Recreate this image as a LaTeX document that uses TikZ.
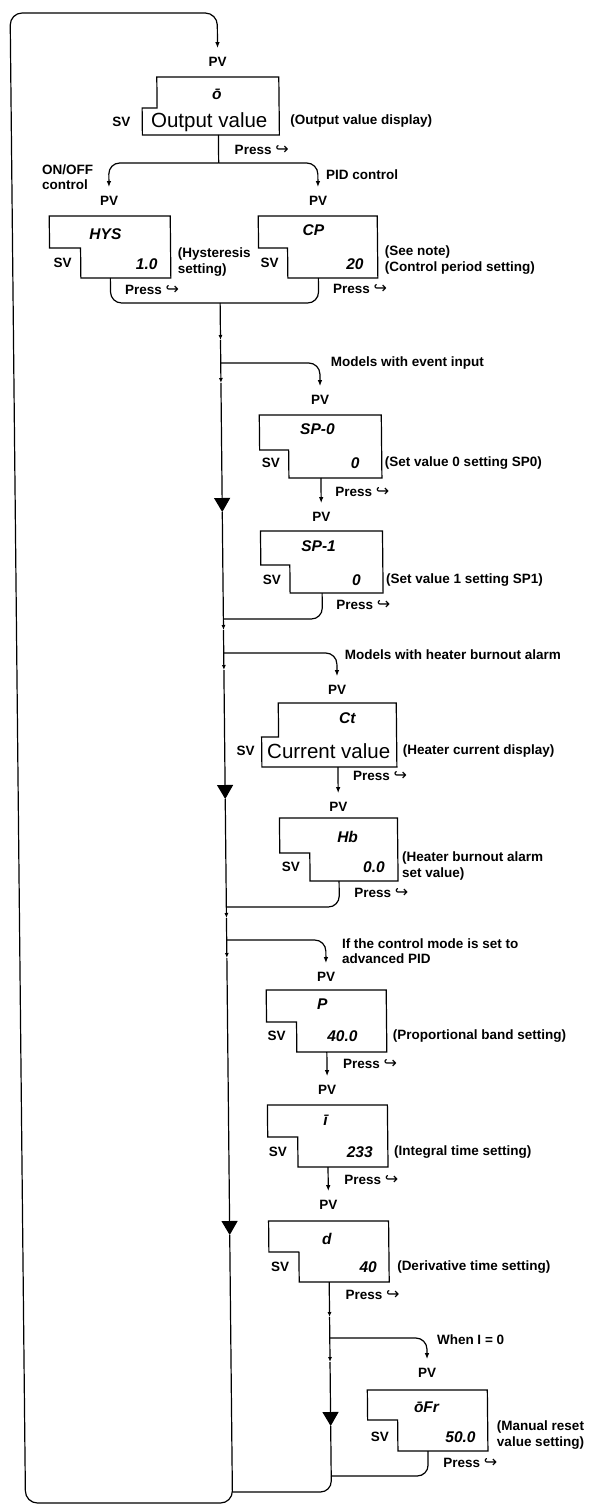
\documentclass[tikz,border=0pt]{standalone}
\usepackage{fontspec}
\setmainfont{Liberation Sans}
\newfontfamily\lblfont[WordSpace=2]{Liberation Sans}
\newfontfamily\segfont{Liberation Sans}
\newfontfamily\symfont{DejaVu Sans}
\usetikzlibrary{arrows.meta}

\newcommand{\modekey}{{\symfont\mdseries\fontsize{16}{16}\selectfont ↪}}
\newcommand{\panel}[7]{%
  \draw[panel] (#2,#5) -- (#4,#5) -- (#4,#7) -- (#3,#7) -- (#3,#6) -- (#2,#6) -- cycle;
  \coordinate (#1) at ({(#2+#4)/2},#7);}

\begin{document}
\begin{tikzpicture}[x=1pt, y=-1pt,
          every node/.style={font=\lblfont\bfseries\fontsize{13.5}{15.5}\selectfont, inner sep=0pt},
          lbl/.style={anchor=west, align=left},
          seg/.style={font=\segfont\bfseries\itshape\fontsize{15.5}{16}\selectfont},
          big/.style={font=\segfont\fontsize{20.5}{22}\selectfont},
          panel/.style={line width=1.2pt},
          line/.style={line width=1.2pt},
          arr/.style={line, -{Latex[length=6pt,width=4.5pt]}, shorten >=9pt},
          tick/.style={line, -{Latex[length=5pt,width=4pt]}},
          bigtip/.style={line, -{Triangle[length=14pt,width=16pt]}},
          corner/.style={rounded corners=11pt}
      ]
  \useasboundingbox (0,0) rectangle (596,1506);
  \begin{scope}[xslant=-0.0103]
    \node (pvtop) at (217,62) {PV};
    \panel{out}{156}{141}{278}{77}{108}{135}
    \node[seg] (outt) at (216,94) {ō};
    \node[big] (outv) at (208,122) {Output value};
    \node (outsv) at (120,122) {SV};
    \node[lbl] (outn) at (289,121) {(Output value display)};
    \node[lbl] (outp) at (233,150) {Press \modekey};
    \coordinate (split) at (217,163);

    \node[lbl] (onoff) at (40,177) {ON/OFF\\control};
    \node[lbl] (pid) at (324,175) {PID control};
    \node (pvhys) at (107,201) {PV};
    \node (pvcp) at (316,201) {PV};

    \panel{hys}{47}{78}{168}{216}{248}{278}
    \node[seg] (hyst) at (103,234) {HYS};
    \node[seg, anchor=east] (hysv) at (155,264) {1.0};
    \node (hyssv) at (60,263) {SV};
    \node[lbl] (hysn) at (175,262) {(Hysteresis\\setting)};
    \node[lbl] (hysp) at (122,290) {Press \modekey};

    \panel{cp}{256}{285}{375}{216}{248}{278}
    \node[seg] (cpt) at (311,230) {CP};
    \node[seg, anchor=east] (cpv) at (361,264) {20};
    \node (cpsv) at (267,263) {SV};
    \node[lbl] (cpn) at (382,260) {(See note)\\(Control period setting)};
    \node[lbl] (cpp) at (330,289) {Press \modekey};

    \node[lbl] (evt) at (327,363) {Models with event input};
    \node (pvsp0) at (316,400) {PV};
    \panel{sp0}{255}{284}{377}{415}{450}{478}
    \node[seg] (sp0t) at (313,429) {SP-0};
    \node[seg, anchor=east] (sp0v) at (355,463) {0};
    \node (sp0sv) at (266,463) {SV};
    \node[lbl] (sp0n) at (380,463) {(Set value 0 setting SP0)};
    \node[lbl] (sp0p) at (330,492) {Press \modekey};
    \node (pvsp1) at (316,517) {PV};
    \panel{sp1}{255}{284}{377}{531}{565}{593}
    \node[seg] (sp1t) at (313,546) {SP-1};
    \node[seg, anchor=east] (sp1v) at (355,580) {0};
    \node (sp1sv) at (266,580) {SV};
    \node[lbl] (sp1n) at (380,580) {(Set value 1 setting SP1)};
    \node[lbl] (sp1p) at (330,605) {Press \modekey};

    \node[lbl] (hbm) at (338,655) {Models with heater burnout alarm};
    \node (pvct) at (330,690) {PV};
    \panel{ct}{271}{254}{389}{703}{737}{767}
    \node[seg] (ctt) at (340,718) {Ct};
    \node[big] (ctv) at (321,751) {Current value};
    \node (ctsv) at (238,751) {SV};
    \node[lbl] (ctn) at (395,751) {(Heater current display)};
    \node[lbl] (ctp) at (345,776) {Press \modekey};
    \node (pvhb) at (330,807) {PV};
    \panel{hb}{271}{301}{389}{818}{853}{881}
    \node[seg] (hbt) at (339,837) {Hb};
    \node[seg, anchor=east] (hbv) at (376,867) {0.0};
    \node (hbsv) at (282,867) {SV};
    \node[lbl] (hbn) at (393,866) {(Heater burnout alarm\\set value)};
    \node[lbl] (hbp) at (345,893) {Press \modekey};

    \node[lbl] (adv) at (332,951) {If the control mode is set to\\advanced PID};
    \node (pvp) at (316,977) {PV};
    \panel{pb}{256}{286}{376}{990}{1022}{1052}
    \node[seg] (pbt) at (312,1004) {P};
    \node[seg, anchor=east] (pbv) at (347,1036) {40.0};
    \node (pbsv) at (266,1036) {SV};
    \node[lbl] (pbn) at (382,1036) {(Proportional band setting)};
    \node[lbl] (pbp) at (332,1064) {Press \modekey};
    \node (pvi) at (316,1090) {PV};
    \panel{ti}{256}{286}{376}{1105}{1137}{1167}
    \node[seg] (tit) at (314,1120) {ī};
    \node[seg, anchor=east] (tiv) at (361,1152) {233};
    \node (tisv) at (266,1152) {SV};
    \node[lbl] (tin) at (382,1152) {(Integral time setting)};
    \node[lbl] (tipress) at (332,1180) {Press \modekey};
    \node (pvd) at (316,1205) {PV};
    \panel{td}{256}{286}{376}{1221}{1252}{1282}
    \node[seg] (tdt) at (314,1239) {d};
    \node[seg, anchor=east] (tdv) at (364,1267) {40};
    \node (tdsv) at (267,1267) {SV};
    \node[lbl] (tdn) at (384,1267) {(Derivative time setting)};
    \node[lbl] (tdp) at (332,1295) {Press \modekey};

    \node[lbl] (izero) at (423,1340) {When I = 0};
    \node (pvofr) at (413,1373) {PV};
    \panel{ofr}{353}{383}{473}{1390}{1420}{1451}
    \node[seg] (ofrt) at (412,1407) {ōFr};
    \node[seg, anchor=east] (ofrv) at (461,1437) {50.0};
    \node (ofrsv) at (365,1437) {SV};
    \node[lbl] (ofrn) at (482,1435) {(Manual reset\\value setting)};
    \node[lbl] (ofrp) at (428,1463) {Press \modekey};

    \coordinate (m0) at (217,303);
    \coordinate (m1) at (217,340);
    \coordinate (m2) at (217,363);
    \coordinate (m3) at (217,383);
    \coordinate (m4) at (217,512);
    \coordinate (m5) at (217,619);
    \coordinate (m6) at (217,630);
    \coordinate (m7) at (217,653);
    \coordinate (m8) at (217,670);
    \coordinate (m9) at (217,799);
    \coordinate (m10) at (217,907);
    \coordinate (m11) at (217,918);
    \coordinate (m12) at (217,940);
    \coordinate (m13) at (217,958);
    \coordinate (m14) at (217,1235);
    \coordinate (m15) at (217,1492);
    \coordinate (s1) at (316,1317);
    \coordinate (s2) at (316,1338);
    \coordinate (s3) at (316,1362);
    \coordinate (s4) at (316,1426);
    \coordinate (s5) at (316,1476);
    \coordinate (loopbl) at (10,1503);
    \coordinate (looptl) at (10,13);

    \draw[line] (out) -- (split);
    \draw[arr, corner] (split) -| (pvhys.north);
    \draw[arr, corner] (split) -| (pvcp.north);
    \draw[line, corner] (hys) |- (cp |- m0) -- (cp);

    \draw[tick] (m0) -- (m1);
    \draw[tick] (m1) -- (m3);
    \draw[bigtip] (m3) -- (m4);
    \draw[line] (m4) -- (m5);
    \draw[tick] (m5) -- (m6);
    \draw[tick] (m6) -- (m8);
    \draw[bigtip] (m8) -- (m9);
    \draw[line] (m9) -- (m10);
    \draw[tick] (m10) -- (m11);
    \draw[tick] (m11) -- (m13);
    \draw[bigtip] (m13) -- (m14);

    \draw[arr, corner] (m2) -| (pvsp0.north);
    \draw[arr] (sp0) -- (pvsp1.north);
    \draw[line, corner] (sp1) |- (m5);
    \draw[arr, corner] (m7) -| (pvct.north);
    \draw[arr] (ct) -- (pvhb.north);
    \draw[line, corner] (hb) |- (m10);
    \draw[arr, corner] (m12) -| (pvp.north);
    \draw[arr] (pb) -- (pvi.north);
    \draw[arr] (ti) -- (pvd.north);

    \draw[tick] (td) -- (s1);
    \draw[tick] (s1) -- (s3);
    \draw[bigtip] (s3) -- (s4);
    \draw[line] (s4) -- (s5);
    \draw[arr, corner] (s2) -| (pvofr.north);
    \draw[line, corner] (ofr) |- (s5);
    \draw[line, corner] (s5) |- (m15);

    \draw[arr, rounded corners=12pt] (m14) |- (loopbl) -- (looptl) -| (pvtop.north);
  \end{scope}
\end{tikzpicture}
\end{document}
